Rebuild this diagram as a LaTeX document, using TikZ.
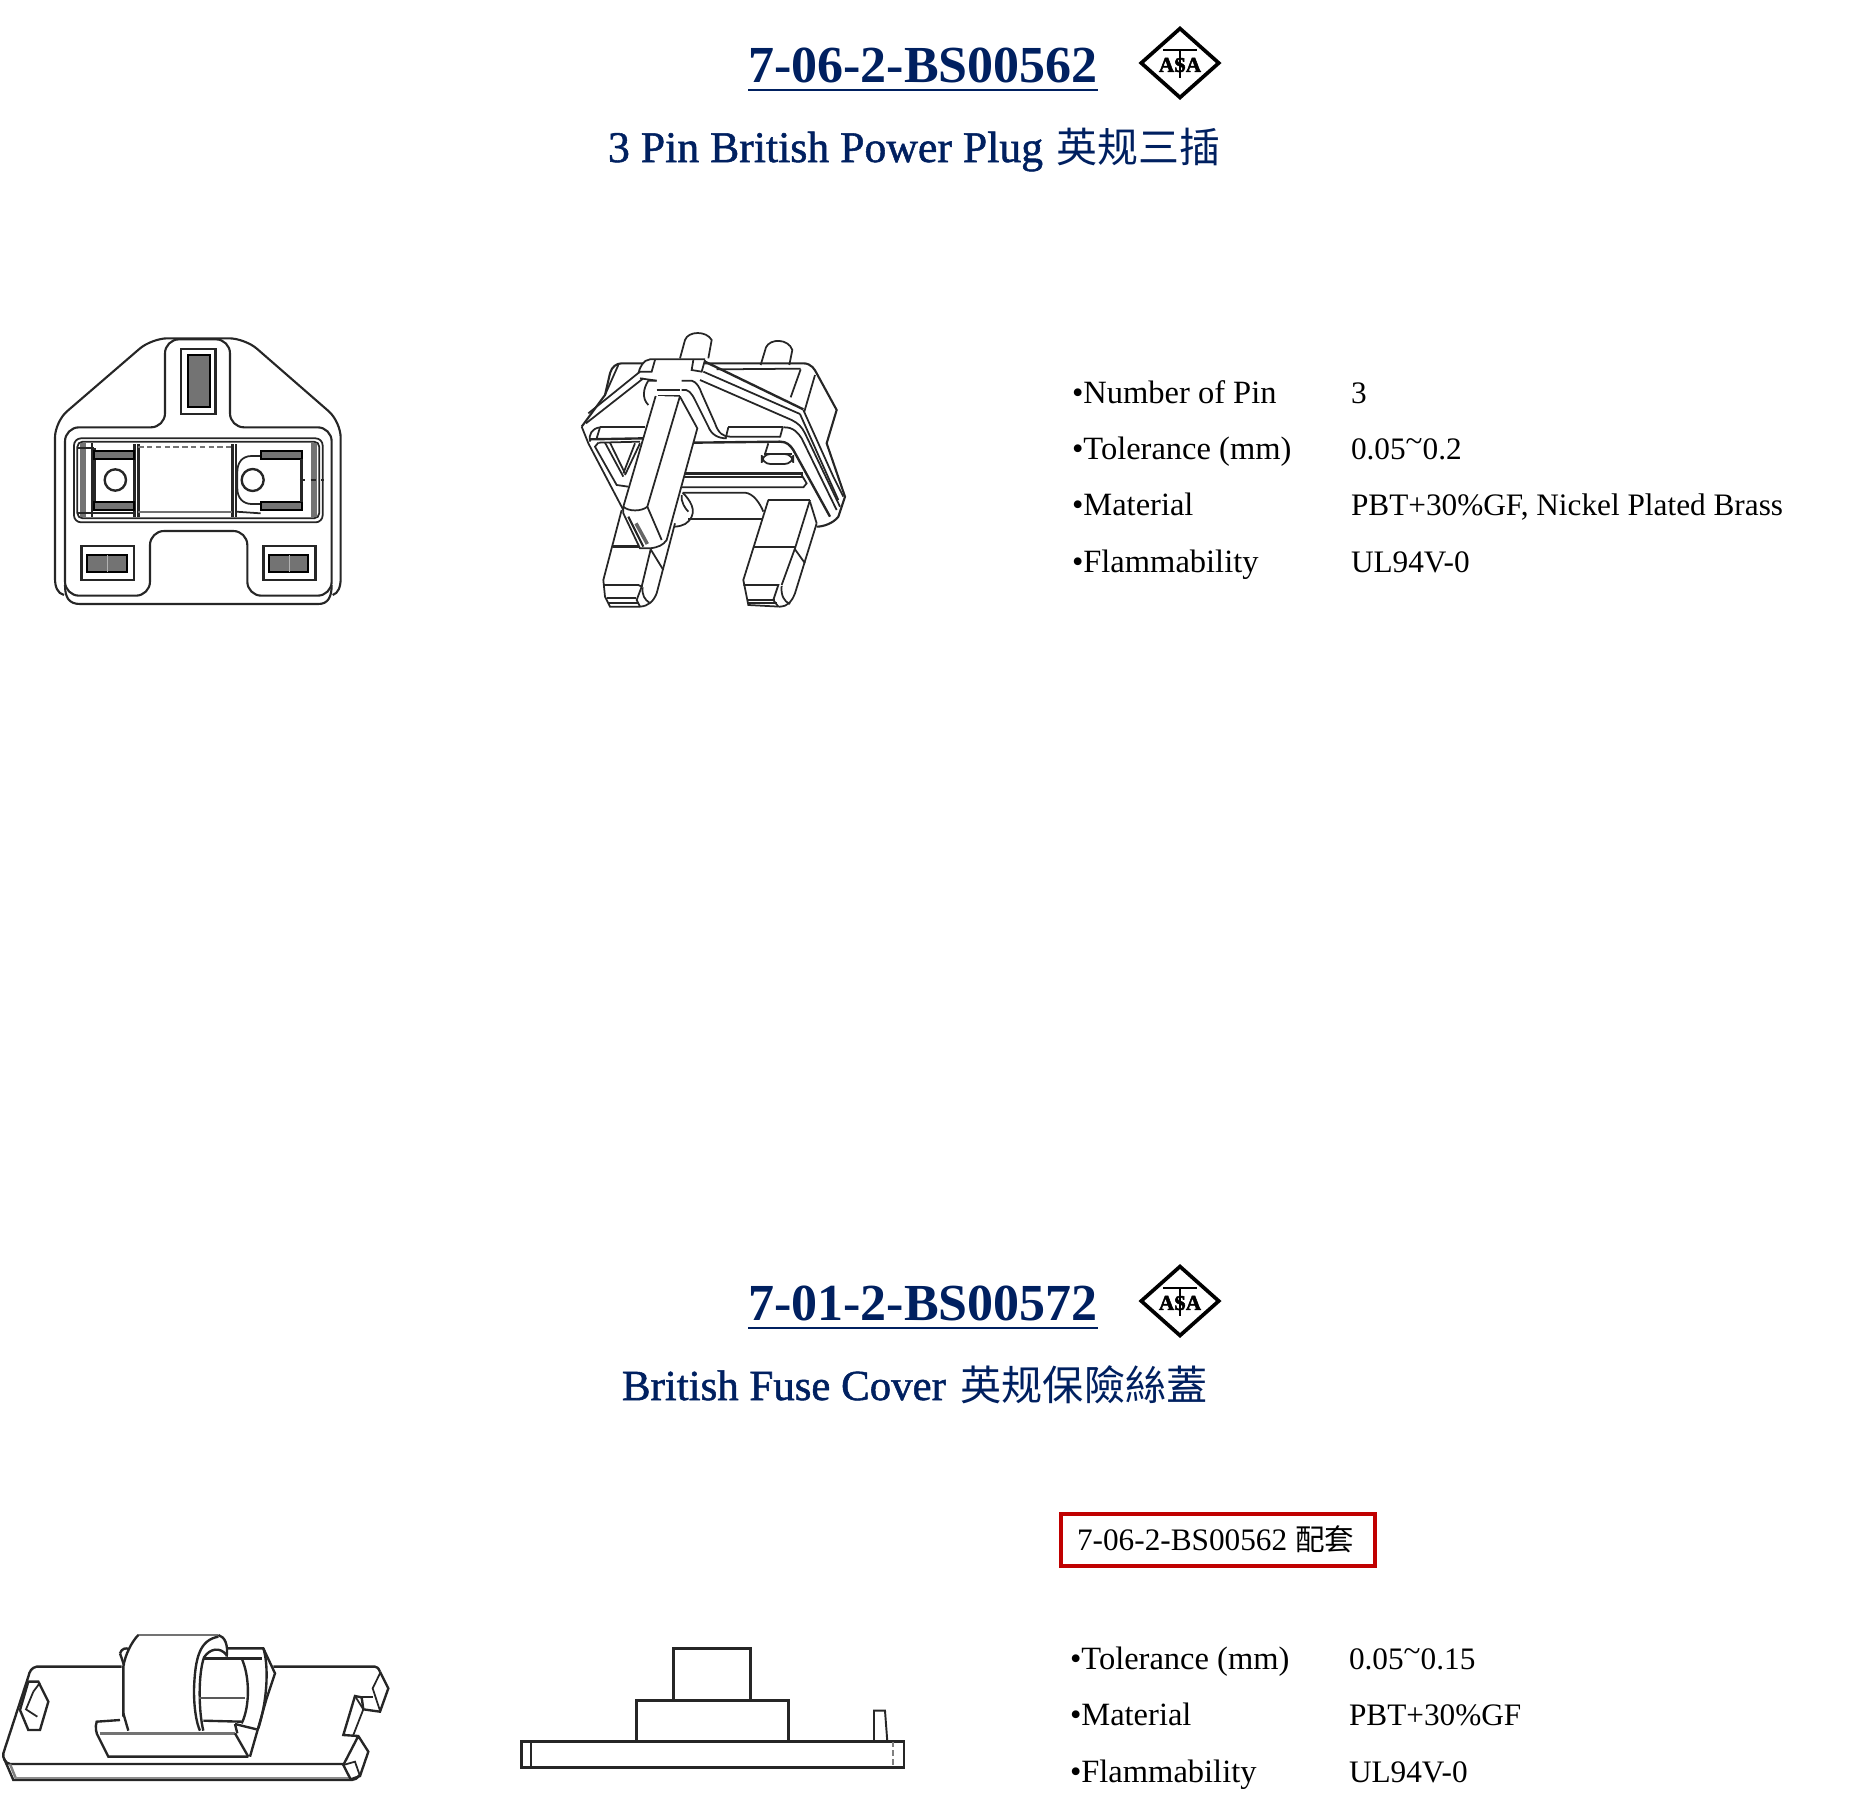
\documentclass[tikz,border=0pt]{standalone}
\usepackage{fontspec}
\setmainfont{Liberation Serif}
\newfontfamily\cjkfont{Noto Sans CJK SC}
\newfontfamily\medfont[FakeBold=1.2]{Liberation Serif}
\newfontfamily\logofont[BoldFeatures={FakeBold=2.5}]{Liberation Serif}
\usepackage{tikz}
\usetikzlibrary{shapes,positioning,calc}

\definecolor{titleblue}{HTML}{002060}
\definecolor{boxred}{HTML}{C00000}
\newcommand{\uptilde}{\raisebox{0.25em}{\textasciitilde}}

\begin{document}
\begin{tikzpicture}[
            x=0.02cm, y=-0.02cm,
            every node/.style={inner sep=0pt, outer sep=0pt},
            partno/.style={
                anchor=base,
                text=titleblue,
                font=\fontsize{29.6}{32}\selectfont\bfseries
            },
            partname/.style={
                anchor=base west,
                text=titleblue,
                font=\fontsize{24.9}{28}\medfont
            },
            spec/.style={
                anchor=base west,
                font=\fontsize{17.8}{20}\selectfont
            },
            speckey/.style={
                spec,
                font=\fontsize{18.5}{20}\selectfont
            },
            logo/.style={
                diamond,
                draw=black,
                line width=2.1pt,
                minimum width=1.55cm,
                minimum height=1.38cm
            },
            logotext/.style={
                font=\fontsize{12}{13}\logofont\bfseries
            },
            matchbox/.style={
                draw=boxred,
                line width=2.6pt,
                minimum width=6.28cm,
                minimum height=1.04cm
            },
            inked/.style={line width=1pt, draw=black!85},
            heavy/.style={line width=1.35pt, draw=black!85},
            shade/.style={fill=black!55, draw=black, line width=1.1pt},
        ]
            \useasboundingbox (0,0) rectangle (1860,1802);

            % first part
            \node[partno] (numA) at (923,82) {7-06-2-BS00562};
            \draw[titleblue, line width=1.4pt] (numA.base west)+(0,8) -- ($(numA.base east)+(0,8)$);
            \node[logo] (logoA) at (1180,63) {};
            \node[logotext] (asaA) at (1180,65) {ASA};
            \draw[line width=1.5pt] (1163,50) -- (1197,50);
            \draw[line width=1.2pt] (1180,50) -- (1180,78);
            \node[partname] (nameA) at (608,162) {3 Pin British Power Plug\hspace{7.8pt}{\cjkfont\fontsize{23.3}{28}\selectfont 英规三插}};

            \node[speckey] (keyA1) at (1072,403) {•Number of Pin};
            \node[speckey] (keyA2) at (1072,459) {•Tolerance (mm)};
            \node[speckey] (keyA3) at (1072,515) {•Material};
            \node[speckey] (keyA4) at (1072,572) {•Flammability};
            \node[spec] (valA1) at (1351,403) {3};
            \node[spec] (valA2) at (1351,459) {0.05\uptilde 0.2};
            \node[spec] (valA3) at (1351,515) {PBT+30\%GF, Nickel Plated Brass};
            \node[spec] (valA4) at (1351,572) {UL94V-0};

            % plug seen from the front
            \begin{scope}[shift={(0,300)}, scale=1/3]
                \draw[inked, line width=1.2pt] (192,885) .. controls (172,880) and (165,860) .. (165,835)
                    [rounded corners=9pt] -- (165,365) -- (455,115) -- (735,115) -- (1022,365)
                    [rounded corners=0pt] -- (1022,835) .. controls (1022,860) and (1015,880) .. (998,885);
                \draw[inked, line width=1.2pt] (195,855) .. controls (195,890) and (205,912) .. (240,912)
                    -- (955,912) .. controls (985,912) and (995,890) .. (995,855);
                \draw[inked, line width=1.2pt, rounded corners=8pt] (195,600) -- (195,382) -- (495,382) -- (495,118)
                    -- (690,118) -- (690,382) -- (995,382) -- (995,887) -- (742,887) -- (742,693)
                    -- (450,693) -- (450,887) -- (195,887) -- cycle;

                \draw[heavy] (543,147) rectangle (647,342);
                \draw[shade] (565,165) rectangle (630,322);

                \draw[inked, rounded corners=4pt] (222,415) rectangle (968,667);
                \draw[inked, rounded corners=3pt] (232,425) rectangle (958,655);
                \fill[black!55] (240,430) rectangle (258,650);
                \fill[black!55] (933,430) rectangle (950,650);
                \draw[inked] (275,430) -- (275,650);
                \draw[inked] (232,445) -- (283,445);
                \draw[inked] (232,640) -- (403,640);
                \draw[heavy] (403,432) -- (403,652);
                \draw[heavy] (415,432) -- (415,652);
                \draw[heavy] (697,432) -- (697,652);
                \draw[inked] (708,432) -- (708,652);
                \draw[black!55, line width=1.3pt, densely dashed] (415,441) -- (697,441);
                \draw[inked, black!55] (415,635) -- (697,635);
                \draw[inked] (708,635) -- (782,640);
                \draw[heavy] (283,445) -- (283,630);
                \draw[shade] (283,452) rectangle (403,478);
                \draw[shade] (283,605) rectangle (403,630);
                \draw[heavy] (346,540) circle (32);
                \draw[inked] (782,468) -- (755,468) .. controls (725,468) and (712,490) .. (712,515)
                    -- (712,565) .. controls (712,595) and (730,612) .. (755,612) -- (782,612);
                \draw[shade] (782,452) rectangle (905,478);
                \draw[shade] (782,605) rectangle (905,630);
                \draw[heavy] (905,478) -- (905,605);
                \draw[heavy] (758,540) circle (33);
                \draw[inked, dashed] (900,540) -- (972,540);

                \draw[heavy] (245,738) rectangle (402,840);
                \draw[shade] (262,765) rectangle (380,815);
                \draw[white!70!black] (322,765) -- (322,815);
                \draw[heavy] (790,738) rectangle (947,840);
                \draw[shade] (808,765) rectangle (923,815);
                \draw[white!70!black] (868,765) -- (868,815);
            \end{scope}

            % plug in perspective
            \begin{scope}[shift={(560,310)}, scale=1/3]
                \draw[inked] (360,145) -- (375,90) .. controls (385,62) and (440,62) .. (455,90) -- (445,145);
                \draw[inked] (602,165) -- (618,112) .. controls (630,85) and (685,85) .. (697,120) -- (688,165);
                \draw[inked, line width=1.2pt] (65,350) -- (135,255) -- (150,190) .. controls (155,170) and (170,160) .. (185,160) -- (250,160);
                \draw[inked, line width=1.2pt] (435,160) -- (730,160) .. controls (755,160) and (765,180) .. (770,190)
                    -- (830,300) -- (800,400) -- (855,560) -- (835,620) .. controls (820,640) and (790,650) .. (770,650);
                \draw[inked] (65,350) -- (85,400) -- (190,600);
                \draw[inked] (470,178) -- (722,176);
                \draw[inked] (722,178) -- (692,262);
                \draw[inked] (765,195) -- (733,305);
                \draw[inked] (175,165) -- (135,255);

                % cross tab and ribs
                \draw[inked] (235,190) .. controls (240,170) and (250,150) .. (270,148) -- (435,148);
                \draw[inked] (285,150) -- (275,185) -- (240,185) -- (85,310);
                \draw[inked] (400,150) -- (395,180) -- (425,185) -- (435,150);
                \draw[inked] (290,212) -- (265,212) .. controls (250,235) and (245,265) .. (265,285);
                \draw[inked] (240,205) -- (290,212);
                \draw[inked] (250,205) -- (78,340);
                \draw[heavy] (290,240) -- (360,240);
                \draw[inked] (295,258) -- (360,258);
                \draw[inked] (365,212) -- (395,212) .. controls (410,215) and (420,235) .. (425,250)
                    -- (465,340) .. controls (475,370) and (490,380) .. (510,380) -- (660,380);
                \draw[inked] (365,240) .. controls (385,235) and (395,250) .. (405,270) -- (445,350)
                    .. controls (455,375) and (475,385) .. (500,385);
                \draw[heavy] (435,155) -- (730,298);
                \draw[inked] (430,185) -- (720,312);
                \draw[inked] (420,210) -- (695,330) .. controls (715,340) and (725,350) .. (735,370) -- (840,590);
                \draw[inked] (730,300) -- (820,500) -- (850,560);
                \draw[inked] (720,312) -- (835,570);
                \draw[inked] (670,352) .. controls (700,350) and (715,370) .. (725,385) -- (830,600);

                % bars across the frame
                \draw[inked] (120,352) -- (255,352);
                \draw[inked] (505,352) -- (668,352);
                \draw[inked] (120,352) .. controls (95,355) and (85,375) .. (90,395);
                \draw[inked] (120,352) -- (110,385);
                \draw[inked] (505,352) -- (497,385);
                \draw[inked] (668,352) -- (660,382);
                \draw[heavy] (90,388) -- (250,385);
                \draw[inked] (115,398) -- (240,395);
                \draw[inked] (115,398) -- (105,410) -- (170,525) -- (205,530);
                \draw[inked] (135,398) -- (190,500);
                \draw[inked] (150,398) -- (195,490);
                \draw[inked] (240,400) -- (195,495);
                \draw[inked] (225,400) -- (190,490);
                \draw[heavy] (400,398) -- (660,395) .. controls (680,395) and (690,405) .. (700,420) -- (810,620);
                \draw[inked, rounded corners=5pt] (605,432) rectangle (700,462);
                \draw[heavy] (612,432) -- (695,432);
                \draw[inked] (625,400) -- (615,432);
                \draw[heavy] (372,490) -- (730,490);
                \draw[inked] (365,500) -- (730,500);
                \draw[inked] (358,532) -- (730,532) -- (740,520) -- (725,495);
                \draw[inked] (368,548) -- (555,548) .. controls (580,550) and (600,580) .. (610,605);
                \draw[inked] (385,628) -- (607,628);
                \draw[inked] (368,548) .. controls (375,555) and (410,590) .. (395,620) .. controls (385,640) and (370,648) .. (345,650);
                \draw[inked] (365,555) .. controls (362,575) and (375,595) .. (385,605);

                % lower pins
                \draw[inked] (185,600) -- (130,810) -- (135,860) -- (150,890) -- (240,890) .. controls (265,888) and (280,875) .. (290,850) -- (345,640);
                \draw[inked] (130,825) -- (235,825) -- (245,830) -- (230,870) -- (240,890);
                \draw[heavy] (160,710) -- (245,710);
                \draw[inked] (140,865) -- (228,865);
                \draw[inked] (145,878) -- (235,878);
                \draw[inked] (272,718) -- (310,780);
                \draw[inked] (248,832) .. controls (245,855) and (255,870) .. (268,878);
                \draw[inked] (272,718) -- (245,830);

                \draw[heavy] (625,570) -- (750,570);
                \draw[inked] (625,570) -- (550,810) -- (565,885) -- (660,890) .. controls (685,888) and (695,875) .. (705,850) -- (770,640);
                \draw[inked] (750,570) -- (705,715) -- (665,825);
                \draw[inked] (580,710) -- (705,710);
                \draw[inked] (550,825) -- (655,825) -- (640,870) -- (655,890);
                \draw[inked] (565,870) -- (645,870);
                \draw[inked] (565,880) -- (650,880);
                \draw[inked] (705,718) -- (735,760);
                \draw[inked] (665,828) .. controls (662,855) and (672,875) .. (690,882);
                \draw[inked] (750,575) -- (770,640);

                % long pin in front
                \draw[inked, fill=white] (287,258) -- (190,590) -- (190,610) -- (240,715) -- (270,715)
                    .. controls (295,712) and (310,705) .. (320,690) -- (412,355) -- (360,260);
                \draw[inked] (360,258) -- (262,590);
                \draw[inked] (190,590) .. controls (205,605) and (245,605) .. (262,590) -- (305,690);
                \draw[inked, line width=1.2pt] (205,620) -- (250,710);
                \draw[inked, line width=2pt, black!60] (228,640) -- (262,702);
            \end{scope}

            % second part
            \node[partno] (numB) at (923,1320) {7-01-2-BS00572};
            \draw[titleblue, line width=1.4pt] (numB.base west)+(0,8) -- ($(numB.base east)+(0,8)$);
            \node[logo] (logoB) at (1180,1301) {};
            \node[logotext] (asaB) at (1180,1303) {ASA};
            \draw[line width=1.5pt] (1163,1288) -- (1197,1288);
            \draw[line width=1.2pt] (1180,1288) -- (1180,1316);
            \node[partname, font=\fontsize{24.4}{28}\medfont] (nameB) at (622,1400) {British Fuse Cover\hspace{8.4pt}{\cjkfont\fontsize{23.4}{28}\selectfont 英规保險絲蓋}};

            \node[matchbox] (match) at (1218,1540) {};
            \node[spec] (matchtext) at (1077,1550) {7-06-2-BS00562 {\cjkfont\fontsize{16.8}{20}\selectfont 配套}};

            \node[speckey] (keyB1) at (1070,1669) {•Tolerance (mm)};
            \node[speckey] (keyB2) at (1070,1725) {•Material};
            \node[speckey] (keyB3) at (1070,1782) {•Flammability};
            \node[spec] (valB1) at (1349,1669) {0.05\uptilde 0.15};
            \node[spec] (valB2) at (1349,1725) {PBT+30\%GF};
            \node[spec] (valB3) at (1349,1782) {UL94V-0};

            % fuse cover in perspective
            \begin{scope}[shift={(0,1620)}, scale=1/3]
                \draw[heavy] (365,140) -- (110,140) .. controls (95,142) and (88,155) .. (85,170) -- (10,400) .. controls (8,415) and (15,428) .. (30,432) -- (1030,432);
                \draw[heavy] (820,140) -- (1125,140) .. controls (1135,142) and (1138,150) .. (1140,155);
                \draw[heavy] (12,415) -- (40,480) -- (1055,480) .. controls (1065,480) and (1072,475) .. (1078,465);
                \draw[black!50, line width=1.4pt] (30,432) -- (48,476);
                \draw[black!45, line width=1.4pt] (45,474) -- (1050,474);
                \draw[heavy] (85,185) -- (115,185) -- (145,245) -- (120,330) -- (85,330) -- (60,270) -- cycle;
                \draw[inked] (100,215) -- (78,268) -- (112,290);
                \draw[inked] (120,188) -- (100,215);
                \draw[heavy] (1140,155) -- (1165,205) -- (1140,275) -- (1090,268) -- (1085,232) -- (1065,228) -- (1030,345) -- (1075,348) -- (1105,395) -- (1080,468) -- (1052,478) -- (1030,435) -- (1075,348);
                \draw[inked] (1140,160) -- (1118,205) -- (1140,272);
                \draw[inked] (1085,232) -- (1118,232);
                \draw[inked] (1065,228) -- (1090,268) -- (1060,345);
                \draw[inked] (1030,435) -- (1065,425) -- (1080,468);

                \draw[black!55, line width=1.6pt] (415,45) -- (655,45);
                \draw[heavy] (415,45) .. controls (395,65) and (375,105) .. (370,140) -- (370,290);
                \draw[heavy] (360,100) .. controls (365,85) and (378,82) .. (388,88);
                \draw[heavy] (360,100) -- (372,135);
                \draw[heavy] (655,45) .. controls (675,50) and (685,75) .. (680,110);
                \draw[heavy] (655,50) .. controls (600,60) and (585,110) .. (582,210) .. controls (582,270) and (590,310) .. (600,332);
                \draw[heavy] (680,105) .. controls (660,80) and (630,85) .. (612,112) .. controls (595,160) and (595,270) .. (610,332);
                \draw[heavy] (680,85) -- (790,85) -- (825,160) -- (800,235) -- (750,410);
                \draw[heavy] (790,85) .. controls (805,130) and (805,230) .. (775,325);
                \draw[heavy] (612,115) -- (785,115);
                \draw[heavy] (725,115) .. controls (750,170) and (750,260) .. (725,310);
                \draw[black!65, line width=1.2pt] (598,235) -- (735,235);
                \draw[heavy] (610,302) -- (725,305);

                \draw[heavy] (360,300) -- (290,305) .. controls (285,320) and (288,340) .. (295,350) -- (325,410) -- (745,410);
                \draw[heavy] (370,280) -- (385,332);
                \draw[black!55, line width=2pt] (300,340) -- (705,340);
                \draw[heavy] (705,340) -- (745,410);
                \draw[heavy] (705,312) -- (770,328);
                \draw[heavy] (705,312) -- (712,340);
            \end{scope}

            % fuse cover from the side
            \begin{scope}[shift={(500,1620)}, scale=1/3]
                \draw[heavy] (520,242) -- (520,85) -- (752,85) -- (752,242);
                \draw[heavy] (410,365) -- (410,242) -- (866,242) -- (866,365);
                \draw[heavy] (65,365) rectangle (1212,443);
                \draw[heavy] (93,365) -- (93,443);
                \draw[inked, black!50, densely dashed] (1178,365) -- (1178,443);
                \draw[inked, line width=1.1pt] (1122,365) -- (1122,272) -- (1155,272) -- (1162,365);
            \end{scope}
        \end{tikzpicture}
\end{document}
